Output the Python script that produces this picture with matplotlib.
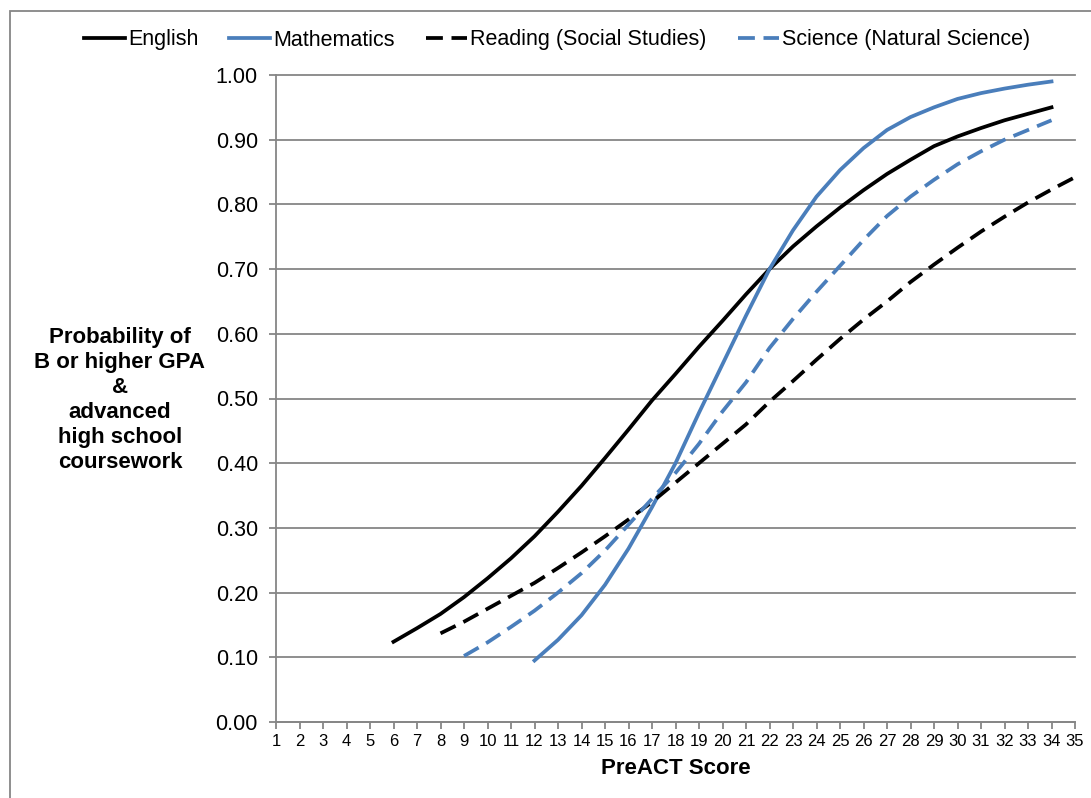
import matplotlib.pyplot as plt
from matplotlib.patches import Rectangle

plt.rcParams['font.family'] = ['Liberation Sans', 'DejaVu Sans']

# ---- data ----
english_x = list(range(6, 35))
english_y = [0.124, 0.145, 0.167, 0.193, 0.222, 0.253, 0.287, 0.325, 0.365, 0.408,
             0.452, 0.497, 0.538, 0.580, 0.620, 0.661, 0.700, 0.735, 0.766, 0.795,
             0.822, 0.847, 0.869, 0.890, 0.905, 0.918, 0.930, 0.940, 0.950]

math_x = list(range(12, 35))
math_y = [0.095, 0.127, 0.165, 0.212, 0.268, 0.332, 0.400, 0.478, 0.553, 0.628,
          0.700, 0.760, 0.812, 0.853, 0.887, 0.915, 0.935, 0.950, 0.963, 0.972,
          0.979, 0.985, 0.990]

reading_x = list(range(8, 36))
reading_y = [0.137, 0.155, 0.175, 0.195, 0.215, 0.238, 0.262, 0.287, 0.313, 0.340,
             0.370, 0.400, 0.430, 0.460, 0.495, 0.527, 0.560, 0.592, 0.622, 0.650,
             0.680, 0.707, 0.733, 0.758, 0.781, 0.803, 0.823, 0.842]

science_x = list(range(9, 35))
science_y = [0.102, 0.123, 0.147, 0.172, 0.200, 0.230, 0.265, 0.305, 0.345, 0.385,
             0.430, 0.480, 0.525, 0.578, 0.623, 0.665, 0.705, 0.745, 0.782, 0.812,
             0.838, 0.862, 0.882, 0.900, 0.915, 0.930]

x_ticks = list(range(1, 36))
y_ticks = [0.0, 0.1, 0.2, 0.3, 0.4, 0.5, 0.6, 0.7, 0.8, 0.9, 1.0]

BLUE = '#4A7EBB'
GRID = '#868686'
LW = 2.7

fig = plt.figure(figsize=(10.91, 7.98), dpi=100)
ax = fig.add_axes([276 / 1091, 1 - 722 / 798, (1075 - 276) / 1091, (722 - 75) / 798])

ax.plot(english_x, english_y, color='black', lw=LW, label='English')
ax.plot(math_x, math_y, color=BLUE, lw=LW, label='Mathematics')
ax.plot(reading_x, reading_y, color='black', lw=LW, dashes=(4.5, 2.3),
        label='Reading (Social Studies)')
ax.plot(science_x, science_y, color=BLUE, lw=LW, dashes=(4.5, 2.3),
        label='Science (Natural Science)')

ax.set_xlim(1, 35)
ax.set_ylim(0, 1.0)
ax.set_xticks(x_ticks)
ax.set_xticklabels([str(t) for t in x_ticks], fontsize=12)
ax.set_yticks(y_ticks)
ax.set_yticklabels([f'{t:.2f}' for t in y_ticks], fontsize=15.5)

ax.yaxis.grid(True, color=GRID, lw=1.3)
for gl in ax.yaxis.get_gridlines():
    gl.set_clip_on(False)
ax.set_axisbelow(True)

for side in ('top', 'right'):
    ax.spines[side].set_visible(False)
for side in ('left', 'bottom'):
    ax.spines[side].set_color(GRID)
    ax.spines[side].set_linewidth(1.3)

ax.tick_params(axis='x', direction='out', length=5, width=1.3, color=GRID, pad=4)
ax.tick_params(axis='y', direction='out', length=5, width=1.3, color=GRID, pad=8)

ax.set_xlabel('PreACT Score', fontsize=16, fontweight='bold', labelpad=6)
fig.text(120 / 1091, 1 - 400 / 798,
         'Probability of\nB or higher GPA\n&\nadvanced\nhigh school\ncoursework',
         ha='center', va='center', fontsize=16, fontweight='bold', linespacing=1.25)

fig.legend(loc='center', bbox_to_anchor=(557 / 1091, 1 - 40 / 798), ncol=4,
           frameon=False, fontsize=15.5, handlelength=1.9, handletextpad=0.15,
           columnspacing=1.45)

# outer chart border
fig.patches.append(Rectangle((10 / 1091, -0.1), 1.2, 1.1 - 11 / 798,
                             transform=fig.transFigure, fill=False,
                             edgecolor=GRID, lw=1.3))

fig.savefig('out.png', dpi=100)
